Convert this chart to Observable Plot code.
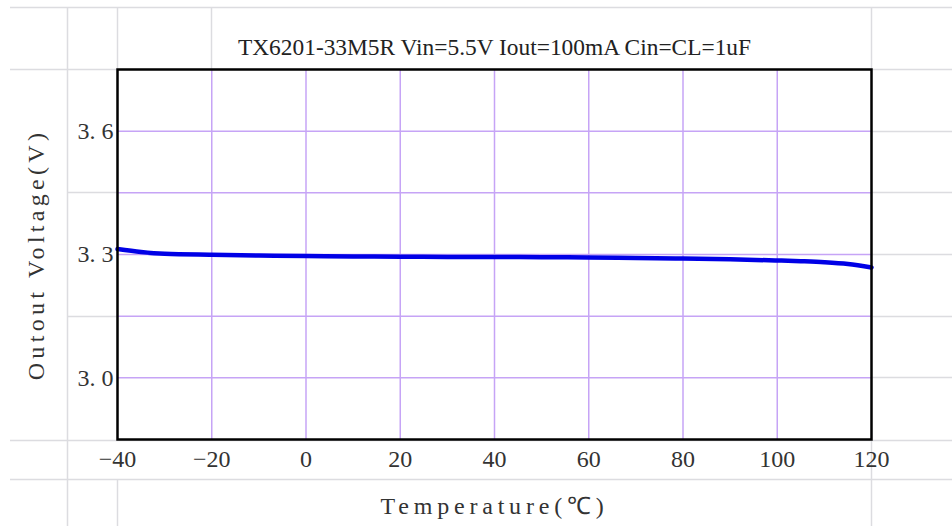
<!DOCTYPE html>
<html>
<head>
<meta charset="utf-8">
<script src="https://cdn.jsdelivr.net/npm/d3@7"></script>
<script src="https://cdn.jsdelivr.net/npm/@observablehq/plot@0.6"></script>
<style>
  body { margin: 0; background: #fff; }
  #wrap { position: relative; width: 952px; height: 526px; overflow: hidden; background: #fff; }
  #bg, #chart { position: absolute; left: 0; top: 0; }
  #chart svg { overflow: visible; }
  g[aria-label="x-axis label"] text { letter-spacing: 4.8px; }
  g[aria-label="y-axis label"] text { letter-spacing: 4.3px; }
</style>
</head>
<body>
<div id="wrap">
  <svg id="bg" width="952" height="526"></svg>
  <div id="chart"></div>
</div>
<script>
// ---- data ----
const temps = [-40, -35, -30, -20, -10, 0, 10, 20, 30, 40, 50, 60, 70, 80, 90, 100, 105, 110, 115, 120];
const volts = [3.3134, 3.3061, 3.3017, 3.2993, 3.2976, 3.2963, 3.2954, 3.2946, 3.2942, 3.2939,
               3.2934, 3.2927, 3.2917, 3.2903, 3.2883, 3.2854, 3.2837, 3.2813, 3.2769, 3.2684];
const xTicks = [-40, -20, 0, 20, 40, 60, 80, 100, 120];
const xGrid = [-20, 0, 20, 40, 60, 80, 100];
const yGrid = [3.0, 3.15, 3.3, 3.45, 3.6];
const yLabels = [3.0, 3.3, 3.6];
const title = "TX6201-33M5R Vin=5.5V Iout=100mA Cin=CL=1uF";
const xLabel = "Temperature(℃)";
const yLabel = "Outout Voltage(V)";

const data = temps.map((t, i) => ({t, v: volts[i]}));

// ---- spreadsheet-like background lines ----
const sheetH = [[7, 10, 952], [69, 10, 952], [131, 871, 952], [192, 67, 952], [254, 871, 952],
                [316, 67, 952], [377, 871, 952], [440, 10, 952], [479, 10, 952]];
const sheetV = [[67, 7, 526], [117, 7, 69], [117, 479, 526], [211, 7, 69], [871, 7, 69], [871, 440, 526]];
const bg = d3.select("#bg");
bg.selectAll("line.h").data(sheetH).join("line")
  .attr("x1", d => d[1]).attr("x2", d => d[2]).attr("y1", d => d[0] + 0.5).attr("y2", d => d[0] + 0.5)
  .attr("stroke", "#dcdce0").attr("stroke-width", 1.5);
bg.selectAll("line.v").data(sheetV).join("line")
  .attr("x1", d => d[0] + 0.5).attr("x2", d => d[0] + 0.5).attr("y1", d => d[1]).attr("y2", d => d[2])
  .attr("stroke", "#dcdce0").attr("stroke-width", 1.5);

// ---- chart ----
const chart = Plot.plot({
  width: 952,
  height: 526,
  marginLeft: 117,
  marginRight: 81,
  marginTop: 69,
  marginBottom: 87,
  style: {background: "transparent", fontFamily: "'Liberation Serif', 'Times New Roman', serif", fontSize: "24px", color: "#333"},
  x: {domain: [-40, 120]},
  y: {domain: [2.85, 3.75]},
  marks: [
    Plot.frame({fill: "white"}),
    Plot.gridX(xGrid, {stroke: "#c6a4f6", strokeOpacity: 1, strokeWidth: 1.5}),
    Plot.gridY(yGrid, {stroke: "#c6a4f6", strokeOpacity: 1, strokeWidth: 1.5}),
    Plot.axisX(xTicks, {
      tickSize: 0, tickPadding: 10, fontSize: 24, fill: "#333",
      label: xLabel, labelAnchor: "center", labelArrow: "none", labelOffset: 74
    }),
    Plot.axisY(yLabels, {
      tickSize: 0, tickPadding: 4, fontSize: 24, fill: "#333",
      tickFormat: d => d.toFixed(1).replace(".", ". "),
      label: yLabel, labelAnchor: "center", labelArrow: "none", labelOffset: 91
    }),
    Plot.line(data, {x: "t", y: "v", stroke: "#0000e6", strokeWidth: 4.5, curve: "monotone-x"}),
    Plot.frame({stroke: "black", strokeWidth: 2.5}),
    Plot.text([title], {frameAnchor: "top", dy: -15, lineAnchor: "bottom", fontSize: 23.4, fill: "#222"})
  ]
});
document.getElementById("chart").appendChild(chart);
</script>
</body>
</html>
